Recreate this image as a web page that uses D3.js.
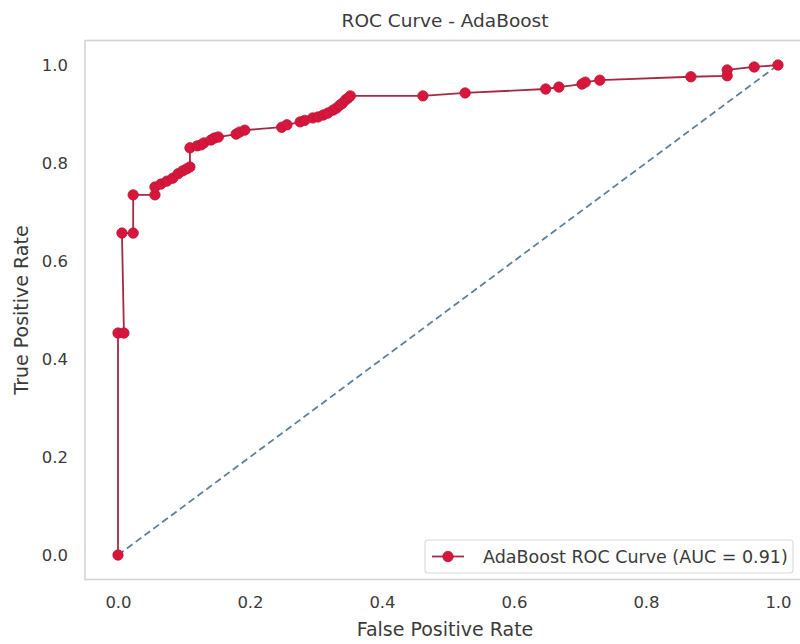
<!DOCTYPE html>
<html>
<head>
<meta charset="utf-8">
<script src="https://cdn.jsdelivr.net/npm/d3@7/dist/d3.min.js"></script>
<style>
  html, body { margin: 0; padding: 0; background: #fff; }
  svg { display: block; font-family: "DejaVu Sans", sans-serif; }
</style>
</head>
<body>
<svg id="chart" width="800" height="644"></svg>
<script>
// ROC operating points for the AdaBoost classifier
const fpr = [0.000, 0.000, 0.009, 0.006, 0.023, 0.023, 0.056, 0.056, 0.065, 0.074,
             0.083, 0.091, 0.098, 0.104, 0.109, 0.109, 0.120, 0.126, 0.130, 0.141,
             0.146, 0.152, 0.179, 0.184, 0.192, 0.248, 0.256, 0.276, 0.283, 0.295,
             0.303, 0.311, 0.318, 0.326, 0.331, 0.336, 0.340, 0.345, 0.349, 0.352,
             0.462, 0.526, 0.648, 0.668, 0.703, 0.708, 0.730, 0.868, 0.923, 0.923,
             0.964, 1.000];
const tpr = [0.000, 0.453, 0.453, 0.657, 0.657, 0.735, 0.735, 0.751, 0.757, 0.763,
             0.769, 0.778, 0.784, 0.788, 0.792, 0.831, 0.835, 0.837, 0.841, 0.847,
             0.851, 0.853, 0.859, 0.863, 0.867, 0.873, 0.878, 0.884, 0.887, 0.892,
             0.894, 0.898, 0.902, 0.908, 0.912, 0.918, 0.922, 0.929, 0.933, 0.937,
             0.937, 0.943, 0.951, 0.955, 0.961, 0.965, 0.969, 0.976, 0.978, 0.990,
             0.996, 1.000];
const chanceLine = [0, 1];
const tickValues = [0.0, 0.2, 0.4, 0.6, 0.8, 1.0];
const aucValue = 0.91;

const titleText = "ROC Curve - AdaBoost";
const xLabel = "False Positive Rate";
const yLabel = "True Positive Rate";
const seriesLabel = `AdaBoost ROC Curve (AUC = ${aucValue.toFixed(2)})`;

const lineColor = "#a52a45";
const markerColor = "#d8163c";
const diagColor = "#5f8099";
const textColor = "#3b3b3b";

const svg = d3.select("#chart");

const x = d3.scaleLinear().domain([-0.05, 1.05]).range([85, 811]);
const y = d3.scaleLinear().domain([-0.05, 1.05]).range([579.5, 40.5]);

// plot frame
svg.append("rect")
  .attr("x", x(-0.05)).attr("y", y(1.05))
  .attr("width", x(1.05) - x(-0.05)).attr("height", y(-0.05) - y(1.05))
  .attr("fill", "#fff").attr("stroke", "#d4d4d4").attr("stroke-width", 1.6);

// axes (labels only, no tick marks)
const xAxis = d3.axisBottom(x).tickValues(tickValues).tickFormat(d3.format(".1f"))
  .tickSize(0).tickPadding(17);
const gx = svg.append("g").attr("transform", `translate(0,${y(-0.05)})`).call(xAxis);
gx.select(".domain").remove();
gx.selectAll("text").attr("fill", textColor).attr("font-size", 16.5)
  .attr("font-family", "DejaVu Sans, sans-serif");

const yAxis = d3.axisLeft(y).tickValues(tickValues).tickFormat(d3.format(".1f"))
  .tickSize(0).tickPadding(17);
const gy = svg.append("g").attr("transform", `translate(${x(-0.05)},0)`).call(yAxis);
gy.select(".domain").remove();
gy.selectAll("text").attr("fill", textColor).attr("font-size", 16.5)
  .attr("font-family", "DejaVu Sans, sans-serif");

// chance diagonal
svg.append("line")
  .attr("x1", x(chanceLine[0])).attr("y1", y(chanceLine[0]))
  .attr("x2", x(chanceLine[1])).attr("y2", y(chanceLine[1]))
  .attr("stroke", diagColor).attr("stroke-width", 1.8)
  .attr("stroke-dasharray", "7,4");

// ROC curve
const pts = fpr.map((f, i) => [f, tpr[i]]);
svg.append("path")
  .datum(pts)
  .attr("d", d3.line().x(d => x(d[0])).y(d => y(d[1])))
  .attr("fill", "none").attr("stroke", lineColor).attr("stroke-width", 1.8);

svg.append("g").selectAll("circle")
  .data(pts).join("circle")
  .attr("cx", d => x(d[0])).attr("cy", d => y(d[1]))
  .attr("r", 5.2).attr("fill", markerColor).attr("stroke", "#b81838").attr("stroke-width", 0.8);

// title and axis labels
svg.append("text").attr("x", 445).attr("y", 27).attr("text-anchor", "middle")
  .attr("font-size", 18.5).attr("fill", textColor).text(titleText);
svg.append("text").attr("x", 445).attr("y", 636).attr("text-anchor", "middle")
  .attr("font-size", 19).attr("fill", textColor).text(xLabel);
svg.append("text").attr("transform", "translate(28,310) rotate(-90)")
  .attr("text-anchor", "middle").attr("font-size", 19).attr("fill", textColor).text(yLabel);

// legend
const lg = svg.append("g");
lg.append("rect").attr("x", 425).attr("y", 540).attr("width", 368).attr("height", 33)
  .attr("rx", 3).attr("fill", "#fff").attr("stroke", "#dcdcdc").attr("stroke-width", 1.2);
lg.append("line").attr("x1", 432).attr("x2", 464).attr("y1", 556.5).attr("y2", 556.5)
  .attr("stroke", lineColor).attr("stroke-width", 1.8);
lg.append("circle").attr("cx", 448).attr("cy", 556.5).attr("r", 5.2)
  .attr("fill", markerColor).attr("stroke", "#b81838").attr("stroke-width", 0.8);
lg.append("text").attr("x", 483).attr("y", 562.5).attr("font-size", 17.5)
  .attr("fill", textColor).text(seriesLabel);
</script>
</body>
</html>
